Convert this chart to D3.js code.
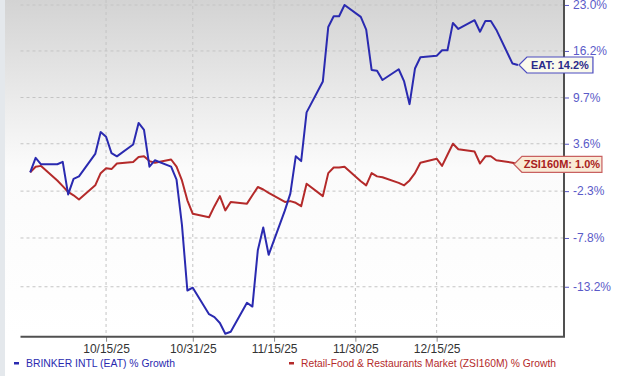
<!DOCTYPE html>
<html lang="en">
<head>
    <meta charset="UTF-8">
    <title>EAT vs ZSI160M % Growth</title>
    <script src="https://d3js.org/d3.v7.min.js"></script>
    <style>
        body { margin: 0; background: #fff; }
        svg { display: block; font-family: "Liberation Sans", Arial, sans-serif; }
    </style>
</head>
<body>
    <svg id="chart" width="620" height="376"></svg>

    <script>
        // trading days (holidays carried forward), values = % growth since 10/01/25
        const dates = [
            "10/01/25","10/02/25","10/03/25","10/06/25","10/07/25","10/08/25","10/09/25","10/10/25",
            "10/13/25","10/14/25","10/15/25","10/16/25","10/17/25","10/20/25","10/21/25","10/22/25",
            "10/23/25","10/24/25","10/27/25","10/28/25","10/29/25","10/30/25","10/31/25",
            "11/03/25","11/04/25","11/05/25","11/06/25","11/07/25","11/10/25","11/11/25","11/12/25",
            "11/13/25","11/14/25","11/17/25","11/18/25","11/19/25","11/20/25","11/21/25","11/24/25",
            "11/25/25","11/26/25","11/27/25","11/28/25",
            "12/01/25","12/02/25","12/03/25","12/04/25","12/05/25","12/08/25","12/09/25","12/10/25",
            "12/11/25","12/12/25","12/15/25","12/16/25","12/17/25","12/18/25","12/19/25","12/22/25",
            "12/23/25","12/24/25","12/25/25","12/26/25","12/29/25","12/30/25"
        ];
        const eatGrowth = [
            0.0, 1.8, 1.0, 1.0, 1.3, -2.7, -0.8, -0.5, 2.3, 5.1, 4.5, 2.4, 2.0, 3.5, 6.3, 5.4,
            0.7, 1.5, 0.7, -0.9, -6.3, -13.6, -13.3,
            -16.1, -16.4, -17.0, -18.1, -17.9, -14.9, -15.3, -9.2, -6.6, -9.7, -4.6, -2.6, 2.0, 1.4,
            7.7, 11.9, 19.7, 21.3, 21.3, 23.0,
            21.2, 19.3, 13.5, 13.4, 12.1, 13.6, 11.9, 8.8, 13.7, 15.3, 15.5, 16.3, 16.3, 20.3,
            19.4, 20.7, 19.0, 20.6, 20.6, 19.3, 14.4, 14.2
        ];
        const zsiGrowth = [
            0.0, 0.7, 0.8, -1.0, -1.7, -2.4, -2.8, -3.3, -1.6, -0.1, 0.5, 0.4, 1.1, 1.3, 1.9, 2.0,
            1.4, 1.2, 1.6, 0.7, -1.0, -3.4, -5.0,
            -5.4, -4.1, -2.9, -4.6, -3.6, -3.8, -2.8, -1.8, -2.1, -2.5, -3.6, -3.5, -3.7, -4.1,
            -1.4, -2.9, -0.1, 0.6, 0.6, 0.7,
            -1.1, -1.6, -0.1, -0.5, -0.6, -1.3, -1.6, -1.0, -0.1, 1.2, 1.7, 0.8, 2.2, 3.6,
            2.9, 2.6, 1.1, 2.0, 2.0, 1.5, 1.2, 1.0
        ];
        const yTicks = [23.0, 16.2, 9.7, 3.6, -2.3, -7.8, -13.2];
        const xTicks = ["10/15/25", "10/31/25", "11/15/25", "11/30/25", "12/15/25"];
        const seriesNames = ["BRINKER INTL (EAT) % Growth", "Retail-Food & Restaurants Market (ZSI160M) % Growth"];
        const tagNames = ["EAT", "ZSI160M"];

        const plotLeft = 20.5, plotRight = 564, plotTop = 0, plotBottom = 336.7;
        const parse = d3.utcParse("%m/%d/%y");
        const blue = "#2a2ab0", red = "#b42a2a";

        const svg = d3.select("#chart");

        // background gradient
        const grad = svg.append("defs").append("linearGradient")
            .attr("id", "bg").attr("x1", 0).attr("y1", 0).attr("x2", 0).attr("y2", 1);
        grad.append("stop").attr("offset", 0).attr("stop-color", "#d3d3d3");
        grad.append("stop").attr("offset", 0.5).attr("stop-color", "#fbfbfb");
        grad.append("stop").attr("offset", 1).attr("stop-color", "#ffffff");

        svg.append("rect").attr("x", 0).attr("y", 0).attr("width", 5).attr("height", 376).attr("fill", "#e4e8ec");
        svg.append("rect").attr("x", 5).attr("y", plotTop).attr("width", plotRight - 5).attr("height", plotBottom - plotTop)
            .attr("fill", "url(#bg)");

        const x = d3.scaleUtc()
            .domain([new Date(Date.UTC(2025, 8, 29, 5)), new Date(Date.UTC(2026, 0, 7, 12))])
            .range([plotLeft, plotRight]);

        // log scale of (1 + growth)
        const y = d3.scaleLog()
            .domain([1 - 0.184, 1 + 0.2376])
            .range([plotBottom, plotTop]);

        // grid
        svg.append("g").selectAll("line")
            .data(yTicks)
            .join("line")
            .attr("x1", plotLeft).attr("x2", plotRight)
            .attr("y1", d => y(1 + d / 100)).attr("y2", d => y(1 + d / 100))
            .attr("stroke", "#c4c4c4").attr("stroke-dasharray", "3,3");

        svg.append("g").selectAll("line")
            .data(xTicks.map(parse))
            .join("line")
            .attr("x1", d => x(d)).attr("x2", d => x(d))
            .attr("y1", plotTop).attr("y2", plotBottom)
            .attr("stroke", "#c4c4c4").attr("stroke-dasharray", "3,3");

        // axes
        const xAxis = svg.append("g")
            .attr("transform", `translate(0,${plotBottom})`)
            .call(d3.axisBottom(x).tickValues(xTicks.map(parse)).tickFormat(d3.utcFormat("%m/%d/%y")).tickSize(5).tickSizeOuter(0));
        xAxis.select(".domain").remove();
        xAxis.selectAll("line").attr("stroke", "#888");
        xAxis.selectAll("text").attr("fill", "#333").style("font-size", "12px").attr("dy", "0.71em");

        const yAxis = svg.append("g")
            .attr("transform", `translate(${plotRight},0)`)
            .call(d3.axisRight(y).tickValues(yTicks.map(d => 1 + d / 100))
                .tickFormat(d => ((d - 1) * 100).toFixed(1) + "%").tickSize(5).tickPadding(4));
        yAxis.select(".domain").remove();
        yAxis.selectAll("line").attr("stroke", "#5a5ac8");
        yAxis.selectAll("text").attr("fill", "#5a5ac8").style("font-size", "12px");

        svg.append("line").attr("x1", plotLeft).attr("x2", plotRight + 1).attr("y1", plotBottom).attr("y2", plotBottom)
            .attr("stroke", "#505050").attr("stroke-width", 2);
        svg.append("line").attr("x1", plotRight).attr("x2", plotRight).attr("y1", 0).attr("y2", plotBottom)
            .attr("stroke", "#505050").attr("stroke-width", 2);

        // lines
        const line = d3.line()
            .x(d => x(d.date))
            .y(d => y(1 + d.v / 100));

        const series = [
            { values: eatGrowth, color: blue },
            { values: zsiGrowth, color: red }
        ];

        svg.append("g").selectAll("path")
            .data(series.slice().reverse())
            .join("path")
            .attr("d", s => line(s.values.map((v, i) => ({ date: parse(dates[i]), v }))))
            .attr("fill", "none")
            .attr("stroke", s => s.color)
            .attr("stroke-width", 2)
            .attr("stroke-linejoin", "round");

        // end tags
        const lastDate = parse(dates[dates.length - 1]);
        const tags = [
            { text: `${tagNames[0]}: ${eatGrowth[eatGrowth.length - 1].toFixed(1)}%`, v: eatGrowth[eatGrowth.length - 1],
              dx: 1, w: 66, fill: "#fafaec", stroke: "#4a4ac0", color: "#2a2a8a" },
            { text: `${tagNames[1]}: ${zsiGrowth[zsiGrowth.length - 1].toFixed(1)}%`, v: zsiGrowth[zsiGrowth.length - 1],
              dx: -4, w: 80, fill: "#f9ead6", stroke: "#c86060", color: "#a82020" }
        ];
        tags.forEach(t => {
            const tx = x(lastDate) + t.dx, ty = y(1 + t.v / 100), h = 16, p = 8;
            svg.append("path")
                .attr("d", `M${tx},${ty} L${tx + p},${ty - h / 2} H${tx + p + t.w} V${ty + h / 2} H${tx + p} Z`)
                .attr("fill", t.fill).attr("stroke", t.stroke).attr("stroke-width", 1.2);
            svg.append("text")
                .attr("x", tx + p + t.w / 2).attr("y", ty + 4)
                .attr("text-anchor", "middle")
                .style("font-size", "11px").style("font-weight", "bold")
                .attr("fill", t.color)
                .text(t.text);
        });

        // legend
        const legend = [
            { name: seriesNames[0], color: blue, x: 14, w: 149 },
            { name: seriesNames[1], color: red, x: 289, w: 255 }
        ];
        legend.forEach(l => {
            svg.append("rect").attr("x", l.x).attr("y", 362).attr("width", 5).attr("height", 2.5).attr("fill", l.color);
            svg.append("text")
                .attr("x", l.x + 12).attr("y", 367)
                .style("font-size", "11px")
                .attr("fill", l.color)
                .attr("textLength", l.w)
                .attr("lengthAdjust", "spacingAndGlyphs")
                .text(l.name);
        });
    </script>
</body>
</html>
